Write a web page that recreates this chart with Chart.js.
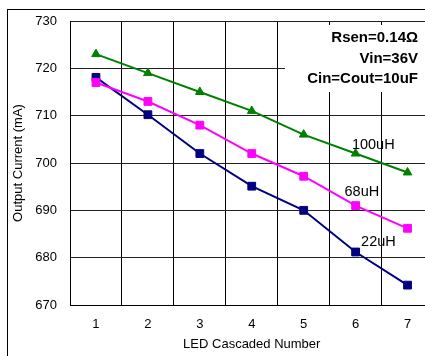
<!DOCTYPE html>
<html>
<head>
<meta charset="utf-8">
<script src="https://cdn.jsdelivr.net/npm/chart.js@4/dist/chart.umd.min.js"></script>
<style>
  html, body { margin: 0; padding: 0; background: #fff; overflow: hidden; width: 425px; height: 356px; }
  #frame { position: absolute; left: 7px; top: 9px; width: 600px; height: 500px; border: 1px solid #000; }
  #wrap { position: absolute; left: 0; top: 0; width: 440px; height: 356px; }
</style>
</head>
<body>
<div id="frame"></div>
<div id="wrap"><canvas id="chart" width="440" height="356"></canvas></div>
<script>
// LED cascaded number vs output current

const ledCounts = ['1', '2', '3', '4', '5', '6', '7'];
const current100uH = [723, 719, 715, 711, 706, 702, 698];
const current68uH = [717, 713, 708, 702, 697.2, 691, 686.2];
const current22uH = [718.1, 710.2, 702, 695.1, 690, 681.2, 674.2];
const yTicks = [670, 680, 690, 700, 710, 720, 730];

const conditionLines = ['Rsen=0.14Ω', 'Vin=36V', 'Cin=Cout=10uF'];

// series name labels, placed in data units (x = category index)
const seriesLabels = [
  { text: '100uH', x: 5.34, y: 703.8 },
  { text: '68uH', x: 5.12, y: 693.9 },
  { text: '22uH', x: 5.44, y: 683.3 }
];

const FONT = "'Liberation Sans', Arial, sans-serif";

const notesPlugin = {
  id: 'notes',
  beforeDatasetsDraw(chart) {
    const ctx = chart.ctx;
    ctx.save();
    // white box behind the test conditions
    ctx.fillStyle = '#fff';
    ctx.fillRect(285, 25, 160, 67);
    ctx.fillStyle = '#000';
    ctx.font = 'bold 15px ' + FONT;
    ctx.textAlign = 'right';
    ctx.textBaseline = 'middle';
    conditionLines.forEach((line, i) => {
      ctx.fillText(line, 418, 38 + i * 20.5);
    });
    ctx.restore();
  },
  afterDatasetsDraw(chart) {
    const ctx = chart.ctx;
    const xs = chart.scales.x;
    const ys = chart.scales.y;
    ctx.save();
    ctx.fillStyle = '#000';
    ctx.font = '14.5px ' + FONT;
    ctx.textAlign = 'center';
    ctx.textBaseline = 'middle';
    seriesLabels.forEach(l => {
      ctx.fillText(l.text, xs.getPixelForValue(l.x), ys.getPixelForValue(l.y));
    });
    ctx.restore();
  }
};

function makeSeries(label, data, color, style, radius) {
  return {
    label: label,
    data: data,
    borderColor: color,
    backgroundColor: color,
    borderWidth: 2,
    pointStyle: style,
    pointRadius: radius,
    pointHoverRadius: radius,
    pointBorderWidth: 1,
    tension: 0
  };
}

new Chart(document.getElementById('chart').getContext('2d'), {
  type: 'line',
  data: {
    labels: ledCounts,
    datasets: [
      makeSeries('100uH', current100uH, '#008000', 'triangle', 5),
      makeSeries('68uH', current68uH, '#ff00ff', 'rect', 5.5),
      makeSeries('22uH', current22uH, '#000080', 'rect', 5.5)
    ]
  },
  options: {
    responsive: false,
    animation: false,
    layout: { padding: { top: 21, right: 6, bottom: 0, left: 0 } },
    plugins: {
      legend: { display: false },
      tooltip: { enabled: false }
    },
    scales: {
      x: {
        type: 'category',
        offset: true,
        grid: { offset: true, color: '#000', lineWidth: 1, drawTicks: false },
        border: { color: '#000', width: 1 },
        ticks: { color: '#000', font: { family: FONT, size: 13 }, padding: 12 },
        title: {
          display: true,
          text: 'LED Cascaded Number',
          color: '#000',
          font: { family: FONT, size: 13 },
          padding: { top: 0, bottom: 4 }
        },
        afterFit(scale) { scale.height = 51; }
      },
      y: {
        min: 670,
        max: 730,
        afterBuildTicks(scale) { scale.ticks = yTicks.map(v => ({ value: v })); },
        grid: { color: '#222', lineWidth: 1, drawTicks: false },
        border: { color: '#000', width: 1 },
        ticks: { color: '#000', font: { family: FONT, size: 13 }, padding: 13 },
        title: {
          display: true,
          text: 'Output Current (mA)',
          color: '#000',
          font: { family: FONT, size: 13 },
          padding: { top: 11, bottom: 0 }
        },
        afterFit(scale) { scale.width = 70; }
      }
    }
  },
  plugins: [notesPlugin]
});
</script>
</body>
</html>
